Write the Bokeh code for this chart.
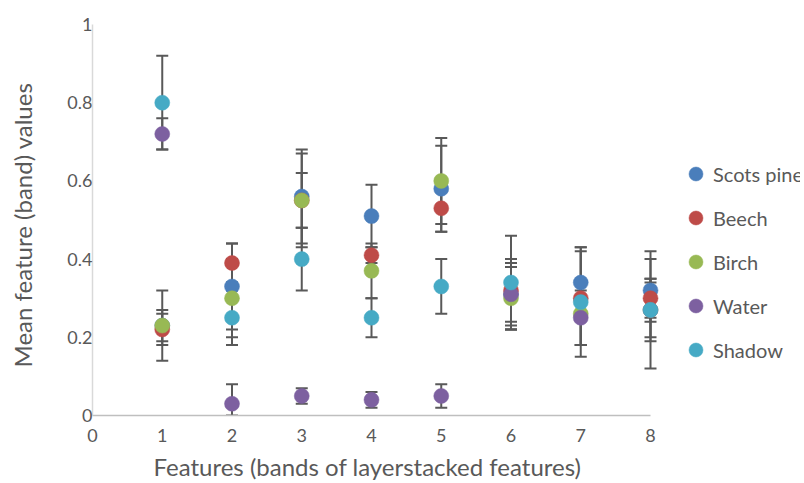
from bokeh.plotting import figure
from bokeh.models import (ColumnDataSource, Whisker, TeeHead, Legend, LegendItem,
                          FixedTicker, Range1d, Title)
from bokeh.embed import file_html
from bokeh.resources import INLINE

features = [1, 2, 3, 4, 5, 6, 7, 8]
series_names = ["Scots pine", "Beech", "Birch", "Water", "Shadow"]
colors = ["#4A7EBB", "#BE4B48", "#98B954", "#7D60A0", "#46AAC5"]

scots_pine = [0.23, 0.33, 0.56, 0.51, 0.58, 0.31, 0.34, 0.32]
scots_pine_err = [0.04, 0.11, 0.12, 0.08, 0.11, 0.09, 0.09, 0.08]
beech = [0.22, 0.39, 0.55, 0.41, 0.53, 0.32, 0.30, 0.30]
beech_err = [0.04, 0.05, 0.12, 0.02, 0.06, 0.08, 0.12, 0.05]
birch = [0.23, 0.30, 0.55, 0.37, 0.60, 0.30, 0.26, 0.27]
birch_err = [0.09, 0.10, 0.07, 0.07, 0.11, 0.08, 0.08, 0.08]
water = [0.72, 0.03, 0.05, 0.04, 0.05, 0.31, 0.25, 0.27]
water_err = [0.04, 0.05, 0.02, 0.02, 0.03, 0.08, 0.07, 0.07]
shadow = [0.80, 0.25, 0.40, 0.25, 0.33, 0.34, 0.29, 0.27]
shadow_err = [0.12, 0.07, 0.08, 0.05, 0.07, 0.12, 0.14, 0.15]

y_ticks = [0, 0.2, 0.4, 0.6, 0.8, 1]
y_tick_labels = ["0", "0.2", "0.4", "0.6", "0.8", "1"]
x_ticks = [0, 1, 2, 3, 4, 5, 6, 7, 8]

x_title = "Features (bands of layerstacked features)"
y_title = "Mean feature (band) values"

values = [scots_pine, beech, birch, water, shadow]
errors = [scots_pine_err, beech_err, birch_err, water_err, shadow_err]

FONT = "Lato"
TXT = "#595959"

FRAME_W = 708
X_END = 8 * FRAME_W / 558.0   # axis 0..8 spans 558 px; room on the right for the legend

p = figure(frame_width=FRAME_W, frame_height=391, output_backend="svg",
           toolbar_location=None,
           x_range=Range1d(0, X_END), y_range=Range1d(0, 1),
           min_border_left=91, min_border_top=24, min_border_bottom=59,
           min_border_right=0)
p.outline_line_color = None
p.grid.grid_line_color = None

sources = []
for vals, errs in zip(values, errors):
    src = ColumnDataSource(dict(
        x=features, y=vals,
        upper=[v + e for v, e in zip(vals, errs)],
        lower=[max(v - e, 0) for v, e in zip(vals, errs)]))
    sources.append(src)
    w = Whisker(source=src, base="x", upper="upper", lower="lower",
                line_color="#595959", line_width=2,
                upper_head=TeeHead(size=12, line_color="#595959", line_width=2),
                lower_head=TeeHead(size=12, line_color="#595959", line_width=2))
    p.add_layout(w)

items = []
for name, color, src in zip(series_names, colors, sources):
    r = p.scatter("x", "y", source=src, size=15, fill_color=color,
                  line_color=color, line_width=0.5)
    items.append(LegendItem(label=name, renderers=[r]))

legend = Legend(items=items, location=(586, 48), border_line_color=None,
                background_fill_alpha=0, label_text_font=FONT,
                label_text_font_size="20px", label_text_color=TXT,
                glyph_width=35, glyph_height=35, label_height=35,
                spacing=9, padding=0, margin=0, label_standoff=-5)
p.add_layout(legend, "center")

p.xaxis.ticker = FixedTicker(ticks=x_ticks)
p.xaxis.bounds = (0, 8)
p.yaxis.ticker = FixedTicker(ticks=y_ticks)
p.yaxis.major_label_overrides = {t: l for t, l in zip(y_ticks, y_tick_labels)}

for ax in (p.xaxis[0], p.yaxis[0]):
    ax.major_tick_line_color = None
    ax.minor_tick_line_color = None
    ax.major_tick_out = 0
    ax.major_tick_in = 0
    ax.minor_tick_out = 0
    ax.minor_tick_in = 0
    ax.major_label_text_font = FONT
    ax.major_label_text_font_size = "18px"
    ax.major_label_text_color = TXT

p.xaxis.axis_line_color = "#BFBFBF"
p.xaxis.axis_line_width = 1.5
p.yaxis.axis_line_color = "#D9D9D9"
p.yaxis.axis_line_width = 1.5
p.xaxis.major_label_standoff = 13
p.yaxis.major_label_standoff = 0

xt = Title(text=x_title, align="left", offset=61, standoff=10,
           text_font=FONT, text_font_size="24px", text_color=TXT,
           text_font_style="normal")
p.add_layout(xt, "below")
# blank spacer between the y tick labels and the y title
spacer = Title(text=" ", text_font=FONT, text_font_size="9px",
               text_color=TXT, text_font_style="normal")
p.add_layout(spacer, "left")
yt = Title(text=y_title, align="left", offset=48,
           text_font=FONT, text_font_size="24px", text_color=TXT,
           text_font_style="normal")
p.add_layout(yt, "left")

open("out.html", "w").write(file_html(p, INLINE))
